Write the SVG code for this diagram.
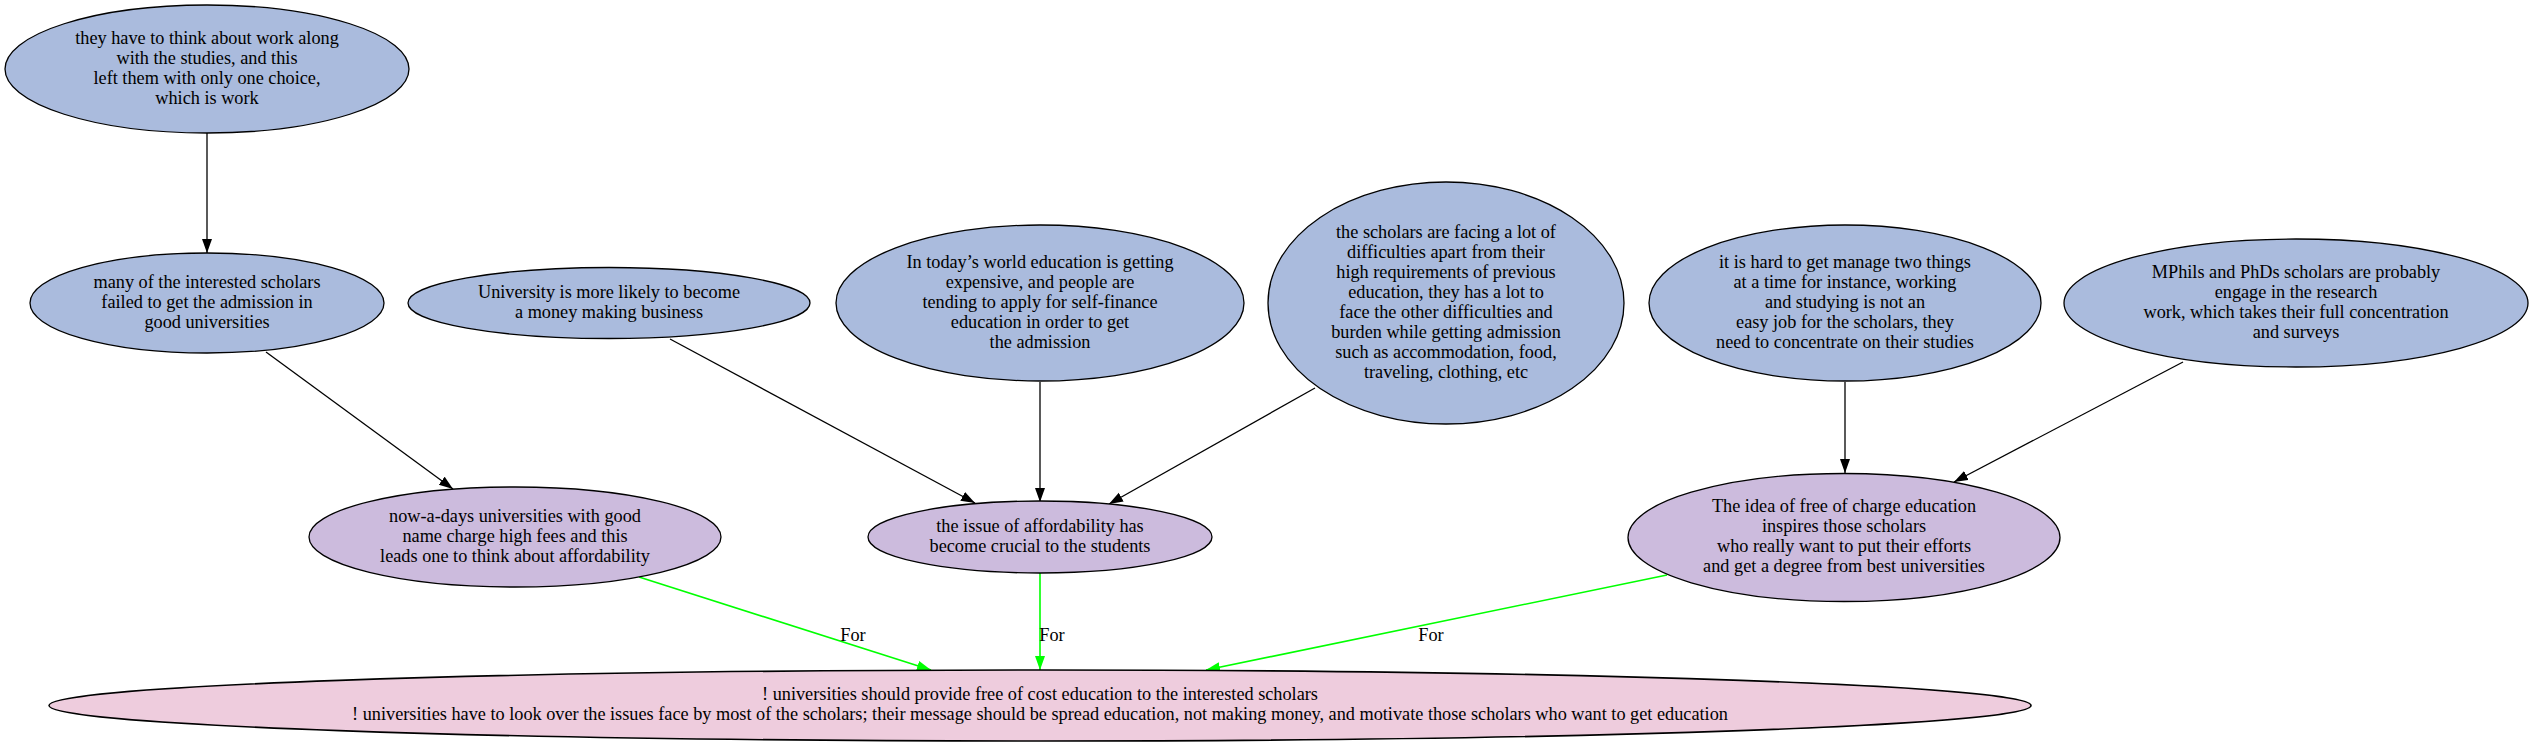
<svg xmlns="http://www.w3.org/2000/svg" width="2533" height="747" viewBox="0 0 2533 747">
<style>
text{font-family:"Liberation Serif","Times New Roman",serif;font-size:18.25px;fill:#000;text-anchor:middle}
.b{fill:#aabbdd;stroke:#000;stroke-width:1.3}
.p{fill:#ccbbdd;stroke:#000;stroke-width:1.3}
.k{fill:#eeccdd;stroke:#000;stroke-width:1.6}
.e{stroke:#000;stroke-width:1.3;fill:none}
.g{stroke:#00ff00;stroke-width:1.6;fill:none}
</style>
<defs>
<marker id="ab" markerUnits="userSpaceOnUse" markerWidth="16" markerHeight="12" refX="14" refY="5" orient="auto"><path d="M0,0L14,5L0,10z" fill="#000"/></marker>
<marker id="ag" markerUnits="userSpaceOnUse" markerWidth="16" markerHeight="12" refX="14" refY="5" orient="auto"><path d="M0,0L14,5L0,10z" fill="#00ff00"/></marker>
</defs>
<rect width="2533" height="747" fill="#fff"/>
<g id="connectors">
<line class="e" x1="207" y1="133" x2="207" y2="253" marker-end="url(#ab)"/>
<line class="e" x1="266" y1="352" x2="453" y2="489" marker-end="url(#ab)"/>
<line class="e" x1="670" y1="339" x2="975" y2="503" marker-end="url(#ab)"/>
<line class="e" x1="1040" y1="382" x2="1040" y2="502" marker-end="url(#ab)"/>
<line class="e" x1="1315" y1="388" x2="1109" y2="504" marker-end="url(#ab)"/>
<line class="e" x1="1845" y1="382" x2="1845" y2="473" marker-end="url(#ab)"/>
<line class="e" x1="2183" y1="362" x2="1954" y2="482" marker-end="url(#ab)"/>
<line class="g" x1="639" y1="577" x2="931" y2="670" marker-end="url(#ag)"/>
<line class="g" x1="1040" y1="573" x2="1040" y2="670" marker-end="url(#ag)"/>
<line class="g" x1="1667" y1="575" x2="1206" y2="670" marker-end="url(#ag)"/>
<text x="853" y="641">For</text>
<text x="1052" y="641">For</text>
<text x="1431" y="641">For</text>
</g>
<g id="n_work">
<ellipse class="b" cx="207" cy="69" rx="202" ry="64"/>
<text x="207" y="44">they have to think about work along</text>
<text x="207" y="64">with the studies, and this</text>
<text x="207" y="84">left them with only one choice,</text>
<text x="207" y="104">which is work</text>
</g>
<g id="n_many">
<ellipse class="b" cx="207" cy="303" rx="177" ry="50"/>
<text x="207" y="288">many of the interested scholars</text>
<text x="207" y="308">failed to get the admission in</text>
<text x="207" y="328">good universities</text>
</g>
<g id="n_univ">
<ellipse class="b" cx="609" cy="303" rx="201" ry="35.5"/>
<text x="609" y="298">University is more likely to become</text>
<text x="609" y="318">a money making business</text>
</g>
<g id="n_today">
<ellipse class="b" cx="1040" cy="303" rx="204" ry="78"/>
<text x="1040" y="268">In today’s world education is getting</text>
<text x="1040" y="288">expensive, and people are</text>
<text x="1040" y="308">tending to apply for self-finance</text>
<text x="1040" y="328">education in order to get</text>
<text x="1040" y="348">the admission</text>
</g>
<g id="n_scholars">
<ellipse class="b" cx="1446" cy="303" rx="178" ry="121"/>
<text x="1446" y="238">the scholars are facing a lot of</text>
<text x="1446" y="258">difficulties apart from their</text>
<text x="1446" y="278">high requirements of previous</text>
<text x="1446" y="298">education, they has a lot to</text>
<text x="1446" y="318">face the other difficulties and</text>
<text x="1446" y="338">burden while getting admission</text>
<text x="1446" y="358">such as accommodation, food,</text>
<text x="1446" y="378">traveling, clothing, etc</text>
</g>
<g id="n_hard">
<ellipse class="b" cx="1845" cy="303" rx="196" ry="78"/>
<text x="1845" y="268">it is hard to get manage two things</text>
<text x="1845" y="288">at a time for instance, working</text>
<text x="1845" y="308">and studying is not an</text>
<text x="1845" y="328">easy job for the scholars, they</text>
<text x="1845" y="348">need to concentrate on their studies</text>
</g>
<g id="n_mphil">
<ellipse class="b" cx="2296" cy="303" rx="232" ry="64"/>
<text x="2296" y="278">MPhils and PhDs scholars are probably</text>
<text x="2296" y="298">engage in the research</text>
<text x="2296" y="318">work, which takes their full concentration</text>
<text x="2296" y="338">and surveys</text>
</g>
<g id="n_nowadays">
<ellipse class="p" cx="515" cy="537" rx="206" ry="50"/>
<text x="515" y="522">now-a-days universities with good</text>
<text x="515" y="542">name charge high fees and this</text>
<text x="515" y="562">leads one to think about affordability</text>
</g>
<g id="n_issue">
<ellipse class="p" cx="1040" cy="537" rx="172" ry="36"/>
<text x="1040" y="532">the issue of affordability has</text>
<text x="1040" y="552">become crucial to the students</text>
</g>
<g id="n_idea">
<ellipse class="p" cx="1844" cy="537.5" rx="216" ry="64"/>
<text x="1844" y="512">The idea of free of charge education</text>
<text x="1844" y="532">inspires those scholars</text>
<text x="1844" y="552">who really want to put their efforts</text>
<text x="1844" y="572">and get a degree from best universities</text>
</g>
<g id="n_claim">
<ellipse class="k" cx="1040" cy="705.5" rx="991" ry="35.5"/>
<text x="1040" y="700">! universities should provide free of cost education to the interested scholars</text>
<text x="1040" y="720">! universities have to look over the issues face by most of the scholars; their message should be spread education, not making money, and motivate those scholars who want to get education</text>
</g>
</svg>
